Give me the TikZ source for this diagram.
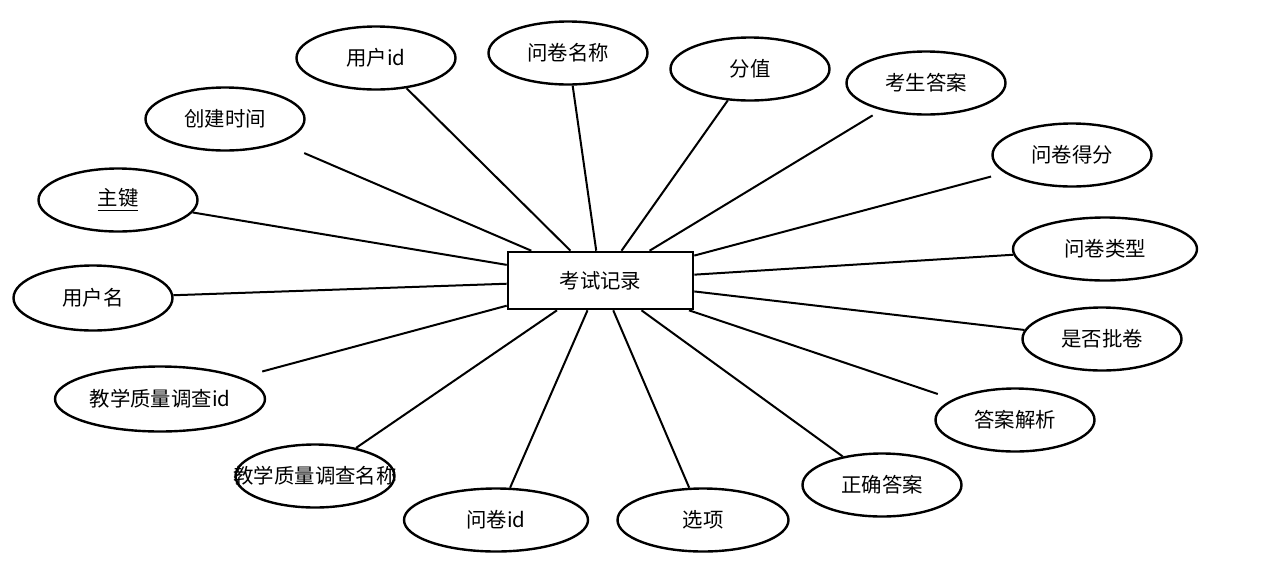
\documentclass[tikz,border=0pt]{standalone}
\usepackage{fontspec}
\setmainfont{Noto Sans CJK SC}
\usepackage{tikz}
\usetikzlibrary{shapes.geometric}

\begin{document}
\begin{tikzpicture}[x=.5pt,y=-.5pt,font=\fontsize{10.2}{12}\selectfont,
  attr/.style={ellipse,draw,line width=1.2pt,inner sep=0pt,minimum width=79.5pt,minimum height=31.5pt},
  ent/.style={rectangle,draw,line width=1.3pt,minimum width=92.5pt,minimum height=28.5pt},
  conn/.style={line width=1pt}]
\useasboundingbox[fill=white] (0,0) rectangle (1280,585);
% entity
\node[ent] (ksjl) at (600.5,280.5) {考试记录};
% attributes
\node[attr] (yhid) at (376,58) {用户id};
\node[attr] (wjmc) at (568,53) {问卷名称};
\node[attr] (fz) at (750,69) {分值};
\node[attr] (ksda) at (926,83) {考生答案};
\node[attr] (wjdf) at (1072,155) {问卷得分};
\node[attr,minimum width=92pt] (wjlx) at (1105,249) {问卷类型};
\node[attr] (sfpj) at (1102,339) {是否批卷};
\node[attr] (dajx) at (1015,420) {答案解析};
\node[attr] (zqda) at (882,485) {正确答案};
\node[attr,minimum width=85.5pt] (xx) at (703,520) {选项};
\node[attr,minimum width=92pt] (wjid) at (496,520) {问卷id};
\node[attr] (jxmc) at (315,476) {\makebox[0pt]{教学质量调查名称}};
\node[attr,minimum width=105pt,minimum height=32.5pt] (jxid) at (160,399) {教学质量调查id};
\node[attr,minimum height=32.5pt] (yhm) at (93,298) {用户名};
\node[attr] (zj) at (118,200) {\underline{主键}};
\node[attr] (cjsj) at (225,119) {创建时间};
% connectors
\draw[conn] (ksjl) -- (yhid);
\draw[conn] (ksjl) -- (wjmc);
\draw[conn] (ksjl) -- (fz);
\draw[conn,shorten >=5pt] (ksjl) -- (ksda);
\draw[conn,shorten >=7pt] (ksjl) -- (wjdf);
\draw[conn] (ksjl) -- (wjlx);
\draw[conn] (ksjl) -- (sfpj);
\draw[conn,shorten >=8pt] (ksjl) -- (dajx);
\draw[conn] (ksjl) -- (zqda);
\draw[conn] (ksjl) -- (xx);
\draw[conn] (ksjl) -- (wjid);
\draw[conn] (ksjl) -- (jxmc);
\draw[conn,shorten >=11pt] (ksjl) -- (jxid);
\draw[conn] (ksjl) -- (yhm);
\draw[conn] (ksjl) -- (zj);
\draw[conn,shorten >=13pt] (ksjl) -- (cjsj);
\end{tikzpicture}
\end{document}
